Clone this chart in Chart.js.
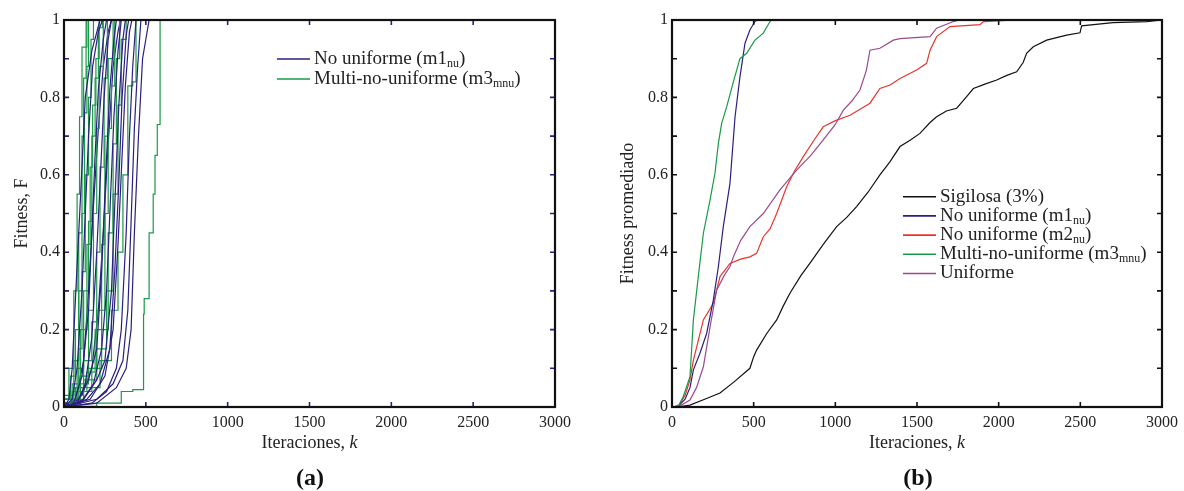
<!DOCTYPE html>
<html>
<head>
<meta charset="utf-8">
<script src="https://cdn.jsdelivr.net/npm/chart.js@4.4.0/dist/chart.umd.min.js"></script>
<style>
  body { margin: 0; background: #fff; }
  #wrap { position: relative; width: 1184px; height: 491px; overflow: hidden; }
  canvas { position: absolute; top: 0; }
  .cap { position: absolute; top: 463px; width: 100px; text-align: center;
         font: bold 24px "Liberation Serif", serif; color: #111; line-height: 28px; }
</style>
</head>
<body>
<div id="wrap">
  <canvas id="chartA" width="592" height="491" style="left:0"></canvas>
  <canvas id="chartB" width="592" height="491" style="left:592px"></canvas>
  <div class="cap" style="left:260px">(a)</div>
  <div class="cap" style="left:868px">(b)</div>
</div>
<script>
// x ticks / y ticks
const iterTicks = [0, 500, 1000, 1500, 2000, 2500, 3000];
const fitTicks = [0, 0.2, 0.4, 0.6, 0.8, 1];

// (a) individual runs, [iteration, fitness]
const runsM1 = [
  [[0,0],[30,0.02],[50,0.1],[70,0.28],[90,0.45],[110,0.62],[130,0.8],[170,0.92],[220,1],[3000,1]],
  [[0,0],[50,0.02],[80,0.1],[110,0.3],[130,0.5],[150,0.7],[175,0.88],[210,0.97],[235,1],[3000,1]],
  [[0,0],[60,0.01],[110,0.08],[150,0.25],[170,0.45],[190,0.65],[210,0.82],[240,0.95],[260,1],[3000,1]],
  [[0,0],[80,0.01],[130,0.06],[170,0.18],[200,0.4],[225,0.62],[245,0.8],[270,0.95],[290,1],[3000,1]],
  [[0,0],[90,0.02],[150,0.07],[200,0.15],[230,0.35],[255,0.6],[280,0.82],[305,0.95],[320,1],[3000,1]],
  [[0,0],[100,0.01],[180,0.06],[230,0.15],[260,0.3],[285,0.55],[305,0.75],[330,0.92],[350,1],[3000,1]],
  [[0,0],[120,0.02],[200,0.07],[250,0.12],[290,0.3],[310,0.52],[335,0.78],[360,0.95],[375,1],[3000,1]],
  [[0,0],[140,0.02],[220,0.06],[280,0.15],[310,0.35],[335,0.58],[355,0.8],[380,0.96],[395,1],[3000,1]],
  [[0,0],[160,0.02],[250,0.08],[300,0.2],[330,0.42],[355,0.65],[375,0.83],[400,0.97],[415,1],[3000,1]],
  [[0,0],[170,0.01],[260,0.04],[320,0.1],[350,0.2],[380,0.45],[400,0.7],[420,0.88],[440,1],[3000,1]],
  [[0,0],[200,0.02],[300,0.06],[360,0.12],[390,0.25],[410,0.48],[430,0.72],[450,0.88],[470,1],[3000,1]],
  [[0,0],[200,0.01],[320,0.05],[380,0.1],[410,0.2],[430,0.45],[455,0.7],[480,0.9],[520,1],[3000,1]],
  [[0,0],[70,0.02],[120,0.12],[150,0.3],[180,0.52],[210,0.72],[240,0.88],[270,0.97],[290,1],[3000,1]],
  [[0,0],[110,0.03],[170,0.1],[210,0.25],[240,0.45],[270,0.68],[300,0.88],[330,0.97],[345,1],[3000,1]]
];
const runsM3 = [
  [[0,0],[30,0.02],[60,0.1],[80,0.3],[95,0.55],[110,0.75],[115,0.93],[140,0.93],[150,1],[3000,1]],
  [[0,0],[40,0.01],[70,0.08],[90,0.2],[110,0.45],[120,0.7],[135,0.85],[155,1],[3000,1]],
  [[0,0],[50,0.02],[90,0.06],[110,0.15],[130,0.35],[150,0.6],[165,0.8],[180,0.95],[190,1],[3000,1]],
  [[0,0],[60,0.01],[100,0.05],[140,0.2],[160,0.42],[175,0.62],[195,0.78],[215,0.9],[230,1],[3000,1]],
  [[0,0],[50,0.01],[100,0.04],[150,0.08],[180,0.25],[200,0.5],[215,0.72],[240,0.88],[260,1],[3000,1]],
  [[0,0],[70,0.02],[120,0.05],[170,0.12],[200,0.22],[220,0.4],[245,0.62],[265,0.85],[290,1],[3000,1]],
  [[0,0],[80,0.01],[140,0.04],[190,0.09],[230,0.2],[250,0.42],[270,0.7],[300,0.9],[320,1],[3000,1]],
  [[0,0],[90,0.02],[150,0.06],[200,0.1],[250,0.25],[270,0.5],[290,0.72],[310,0.83],[330,1],[3000,1]],
  [[0,0],[100,0.01],[170,0.04],[230,0.1],[270,0.2],[300,0.45],[320,0.68],[340,0.9],[360,1],[3000,1]],
  [[0,0],[120,0.02],[200,0.07],[260,0.15],[300,0.3],[330,0.55],[350,0.78],[380,0.95],[400,1],[3000,1]],
  [[0,0],[100,0.01],[220,0.05],[290,0.12],[330,0.25],[360,0.4],[390,0.6],[420,0.83],[440,0.84],[480,1],[3000,1]],
  [[0,0],[60,0.03],[90,0.12],[110,0.3],[125,0.5],[140,0.76],[150,0.88],[160,1],[3000,1]],
  [[0,0],[80,0.02],[120,0.1],[150,0.3],[170,0.48],[190,0.7],[210,0.85],[235,0.98],[240,1],[3000,1]],
  [[0,0],[200,0.002],[350,0.01],[420,0.04],[486,0.045],[490,0.24],[520,0.28],[545,0.45],[556,0.55],[570,0.65],[587,0.73],[600,1],[3000,1]]
];
const namesA = ['No uniforme (m1_nu)', 'Multi-no-uniforme (m3_mnu)'];

// (b) averaged fitness
const avgSigilosa = [[0,0],[60,0.002],[110,0.005],[200,0.02],[294,0.036],[380,0.065],[477,0.1],[500,0.13],[518,0.147],[580,0.19],[641,0.225],[680,0.26],[722,0.294],[790,0.34],[845,0.372],[926,0.42],[1008,0.466],[1070,0.49],[1130,0.518],[1200,0.555],[1273,0.6],[1335,0.634],[1396,0.673],[1460,0.69],[1518,0.707],[1580,0.735],[1620,0.75],[1680,0.765],[1743,0.772],[1800,0.8],[1845,0.823],[1920,0.835],[1988,0.845],[2050,0.857],[2110,0.866],[2150,0.89],[2171,0.914],[2212,0.931],[2294,0.948],[2416,0.961],[2498,0.967],[2508,0.985],[2700,0.993],[2906,0.996],[3000,1]];
const avgM1 = [[0,0],[40,0.003],[80,0.02],[110,0.05],[131,0.096],[171,0.139],[212,0.19],[253,0.276],[284,0.363],[314,0.466],[355,0.578],[386,0.75],[416,0.853],[447,0.94],[477,0.974],[508,0.996],[520,1],[3000,1]];
const avgM2 = [[0,0],[40,0.003],[80,0.03],[110,0.07],[131,0.121],[160,0.17],[192,0.225],[253,0.268],[294,0.337],[355,0.371],[420,0.382],[477,0.388],[518,0.397],[559,0.44],[600,0.46],[641,0.5],[702,0.569],[750,0.61],[804,0.647],[870,0.69],[926,0.724],[1000,0.74],[1090,0.754],[1212,0.785],[1273,0.823],[1335,0.832],[1396,0.849],[1498,0.871],[1559,0.888],[1580,0.922],[1620,0.957],[1702,0.983],[1886,0.988],[1906,0.996],[2110,1],[3000,1]];
const avgM3 = [[0,0],[40,0.003],[69,0.027],[110,0.078],[131,0.225],[161,0.337],[192,0.449],[233,0.535],[263,0.604],[284,0.681],[304,0.733],[335,0.776],[376,0.841],[416,0.9],[457,0.914],[508,0.948],[559,0.966],[600,0.996],[610,1],[3000,1]];
const avgUniforme = [[0,0],[50,0.003],[110,0.018],[150,0.05],[192,0.104],[233,0.207],[273,0.302],[320,0.34],[355,0.363],[376,0.388],[420,0.43],[477,0.466],[559,0.5],[661,0.561],[763,0.612],[850,0.65],[926,0.69],[1000,0.73],[1049,0.767],[1100,0.79],[1151,0.819],[1190,0.87],[1212,0.922],[1273,0.927],[1355,0.948],[1396,0.952],[1580,0.957],[1620,0.979],[1722,0.996],[1760,1],[3000,1]];
const namesB = ['Sigilosa (3%)', 'No uniforme (m1_nu)', 'No uniforme (m2_nu)', 'Multi-no-uniforme (m3_mnu)', 'Uniforme'];

const BLUE = '#2a2080', GREEN = '#1a9a48', RED = '#e8352b', PURPLE = '#9b4a8c', BLACK = '#111111';
const SERIF = '"Liberation Serif", serif';

// frame, inward ticks, x title with italic k, legend with subscripts
const decor = {
  id: 'decor',
  afterDraw(chart, args, opts) {
    const { ctx, chartArea: a, scales: { x, y } } = chart;
    ctx.save();
    ctx.strokeStyle = opts.tickColor;
    ctx.lineWidth = 1.6;
    ctx.beginPath();
    x.ticks.forEach(t => {
      const px = x.getPixelForValue(t.value);
      ctx.moveTo(px, a.bottom); ctx.lineTo(px, a.bottom - 5);
      ctx.moveTo(px, a.top); ctx.lineTo(px, a.top + 5);
    });
    y.ticks.forEach(t => {
      const py = y.getPixelForValue(t.value);
      ctx.moveTo(a.left, py); ctx.lineTo(a.left + 5, py);
      ctx.moveTo(a.right, py); ctx.lineTo(a.right - 5, py);
    });
    ctx.stroke();

    ctx.strokeStyle = '#111';
    ctx.lineWidth = 2.2;
    ctx.strokeRect(a.left, a.top, a.width, a.height);

    // x title
    ctx.fillStyle = '#222';
    ctx.textBaseline = 'middle';
    const t1 = 'Iteraciones, ';
    ctx.font = 'italic 18px ' + SERIF;
    const wk = ctx.measureText('k').width;
    ctx.font = '18px ' + SERIF;
    const w1 = ctx.measureText(t1).width;
    const cx = (a.left + a.right) / 2 - (w1 + wk) / 2;
    ctx.textAlign = 'left';
    ctx.fillText(t1, cx, 443);
    ctx.font = 'italic 18px ' + SERIF;
    ctx.fillText('k', cx + w1, 443);

    // legend
    const L = opts.legend;
    L.names.forEach((name, i) => {
      const ly = L.y + i * L.dy;
      ctx.strokeStyle = L.colors[i];
      ctx.lineWidth = 1.6;
      ctx.beginPath();
      ctx.moveTo(L.x, ly); ctx.lineTo(L.x + 33, ly);
      ctx.stroke();
      const m = name.match(/^(.*?)_(\w+)(.*)$/);
      const main = m ? m[1] : name;
      ctx.fillStyle = '#222';
      ctx.font = '19px ' + SERIF;
      let tx = L.x + 37;
      ctx.fillText(main, tx, ly);
      if (m) {
        tx += ctx.measureText(main).width;
        ctx.font = '12px ' + SERIF;
        ctx.fillText(m[2], tx, ly + 5);
        tx += ctx.measureText(m[2]).width;
        ctx.font = '19px ' + SERIF;
        ctx.fillText(m[3], tx, ly);
      }
    });
    ctx.restore();
  }
};

function axes(yTitle, yWidth) {
  return {
    x: {
      type: 'linear', min: 0, max: 3000,
      afterBuildTicks: s => { s.ticks = iterTicks.map(v => ({ value: v })); },
      afterFit: s => { s.height = 38; },
      grid: { display: false, drawTicks: false }, border: { display: false },
      ticks: { padding: 6, color: '#222', font: { family: SERIF, size: 16 }, callback: v => String(v) }
    },
    y: {
      type: 'linear', min: 0, max: 1,
      ticks: {
        stepSize: 0.1, padding: 4, color: '#222', font: { family: SERIF, size: 16 },
        callback: v => fitTicks.some(f => Math.abs(f - v) < 1e-6) ? String(Math.round(v * 10) / 10) : ''
      },
      afterFit: s => { s.width = yWidth; },
      grid: { display: false, drawTicks: false }, border: { display: false },
      title: { display: true, text: yTitle, color: '#222', padding: 3, font: { family: SERIF, size: 18 } }
    }
  };
}

const line = (data, color) => ({
  data, borderColor: color, borderWidth: 1.2, pointRadius: 0, fill: false, tension: 0
});

// Panel (a)
const dsA = [];
runsM1.forEach((r, i) => {
  dsA.push(line(r, BLUE));
  dsA.push(Object.assign(line(runsM3[i], GREEN), { stepped: 'after' }));
});
new Chart(document.getElementById('chartA'), {
  type: 'line',
  data: { datasets: dsA },
  options: {
    responsive: false, animation: false, devicePixelRatio: 1,
    layout: { padding: { left: 8, top: 20, right: 37, bottom: 46 } },
    scales: axes('Fitness, F', 56),
    plugins: {
      legend: { display: false }, tooltip: { enabled: false },
      decor: { tickColor: BLUE, legend: { names: namesA, colors: [BLUE, GREEN], x: 277, y: 59, dy: 20 } }
    }
  },
  plugins: [decor]
});

// Panel (b)
new Chart(document.getElementById('chartB'), {
  type: 'line',
  data: {
    datasets: [
      line(avgM3, GREEN), line(avgM1, BLUE), line(avgUniforme, PURPLE),
      line(avgM2, RED), line(avgSigilosa, BLACK)
    ]
  },
  options: {
    responsive: false, animation: false, devicePixelRatio: 1,
    layout: { padding: { left: 22, top: 20, right: 22, bottom: 46 } },
    scales: axes('Fitness promediado', 58),
    plugins: {
      legend: { display: false }, tooltip: { enabled: false },
      decor: { tickColor: '#111', legend: { names: namesB, colors: [BLACK, BLUE, RED, GREEN, PURPLE], x: 311, y: 196.7, dy: 19.2 } }
    }
  },
  plugins: [decor]
});
</script>
</body>
</html>
